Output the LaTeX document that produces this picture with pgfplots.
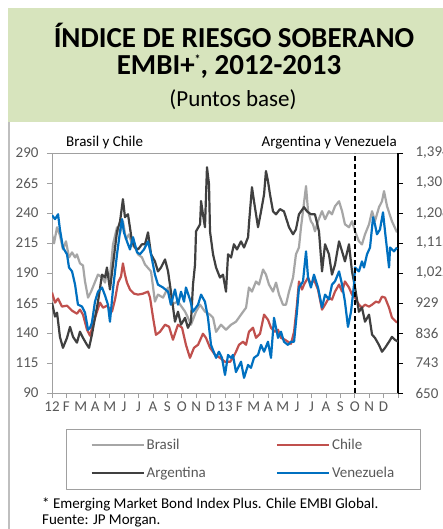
\documentclass[border=0pt]{standalone}
\usepackage{fontspec}
\setmainfont{Carlito}
\usepackage{pgfplots}
\pgfplotsset{compat=1.18}
\definecolor{titlegreen}{HTML}{D7E4BD}
\definecolor{cBrasil}{HTML}{A6A6A6}
\definecolor{cChile}{HTML}{C0504D}
\definecolor{cArg}{HTML}{404040}
\definecolor{cVen}{HTML}{0070C0}
\definecolor{tickgray}{HTML}{595959}
\definecolor{framegray}{HTML}{BFBFBF}
\definecolor{axgray}{HTML}{A0A0A0}
\begin{document}
\begin{tikzpicture}
\useasboundingbox (0pt,0pt) rectangle (442pt,-529pt);
\fill[white] (0pt,0pt) rectangle (442pt,-529pt);
\fill[titlegreen] (8pt,-8pt) rectangle (450pt,-122pt);
\draw[framegray, line width=1.5pt] (8.75pt,-122pt) -- (8.75pt,-535pt);
\node[anchor=base, font=\fontsize{29}{32}\selectfont\bfseries] at (234pt,-48pt) {ÍNDICE DE RIESGO SOBERANO};
\node[anchor=base, font=\fontsize{29}{32}\selectfont\bfseries] at (229pt,-75pt) {EMBI+\raisebox{0.38em}{\fontsize{12}{12}\selectfont *}, 2012-2013};
\node[anchor=base, font=\fontsize{23}{26}\selectfont] at (233pt,-107pt) {(Puntos base)};
\node[anchor=base west, font=\fontsize{15}{18}\selectfont, inner sep=0pt] at (66pt,-147pt) {Brasil y Chile};
\node[anchor=base east, font=\fontsize{15}{18}\selectfont, inner sep=0pt] at (397pt,-147pt) {Argentina y Venezuela};
\node[anchor=base west, font=\fontsize{15}{18}\selectfont, inner sep=0pt] at (42pt,-508pt) {* Emerging Market Bond Index Plus. Chile EMBI Global.};
\node[anchor=base west, font=\fontsize{15}{18}\selectfont, inner sep=0pt] at (42pt,-524pt) {Fuente: JP Morgan.};

\begin{axis}[
  at={(52pt,-393pt)}, anchor=south west,
  scale only axis, width=346pt, height=240pt,
  xmin=0, xmax=24, ymin=90, ymax=290,
  xtick={0,...,24},
  xticklabels={12,F,M,A,M,J,J,A,S,O,N,D,13,F,M,A,M,J,J,A,S,O,N,D,{}},
  ytick={90,115,140,165,190,215,240,265,290},
  yticklabels={90,115,140,165,190,215,240,265,290},
  xtick pos=left, ytick pos=left,
  tick align=outside, major tick length=5pt,
  tick style={draw=axgray, line width=0.8pt},
  axis line style={draw=axgray, line width=0.8pt},
  ticklabel style={font=\fontsize{15}{18}\selectfont, text=tickgray},
  yticklabel style={xshift=-5pt},
  line join=round,
]
\addplot[cBrasil, line width=2.2pt] coordinates {
(0,222.2) (0.14,214.7) (0.35,228.1) (0.55,221.4) (0.76,209.7) (0.97,216.4) (1.18,203.0) (1.39,207.2)
(1.60,203.0) (1.73,205.5) (1.94,198.0) (2.15,196.3) (2.29,182.9) (2.50,169.5) (2.71,174.5) (2.91,180.4)
(3.19,188.7) (3.47,186.2) (3.68,182.0) (3.81,191.3) (4.02,186.2) (4.23,213.8) (4.51,228.1) (4.72,223.1)
(4.92,233.1) (5.13,218.0) (5.34,222.2) (5.55,213.8) (5.83,209.7) (5.97,205.5) (6.24,203.0) (6.45,197.1)
(6.87,191.3) (7.14,166.2) (7.35,172.0) (7.70,169.5) (8.05,177.9) (8.25,163.6) (8.74,166.2) (9.23,157.8)
(9.43,152.8) (9.64,146.9) (9.99,157.8) (10.27,163.6) (10.61,157.8) (10.96,155.3) (11.17,152.8) (11.38,141.0)
(11.72,146.9) (12.07,142.7) (12.42,146.9) (12.76,149.4) (13.11,155.3) (13.46,161.1) (13.66,177.9) (13.87,174.5)
(14.15,182.9) (14.36,180.4) (14.64,192.9) (14.84,188.7) (15.05,180.4) (15.33,174.5) (15.54,182.0) (15.75,172.0)
(16.02,163.6) (16.23,163.6) (16.44,174.5) (16.72,186.2) (16.92,205.5) (17.13,211.3) (17.27,228.1) (17.41,241.5)
(17.62,262.4) (17.76,241.5) (17.96,233.1) (18.10,230.6) (18.24,224.7) (18.45,233.1) (18.73,241.5) (18.94,234.8)
(19.21,241.5) (19.42,238.9) (19.63,245.6) (19.91,249.8) (20.12,241.5) (20.32,230.6) (20.60,228.1) (20.81,233.1)
(21.02,224.7) (21.29,216.4) (21.50,213.8) (21.71,222.2) (21.99,230.6) (22.20,241.5) (22.40,233.1) (22.68,244.8)
(22.89,249.8) (23.03,258.2) (23.24,245.6) (23.58,233.1) (23.93,223.9)
};
\addplot[cChile, line width=2.2pt] coordinates {
(0,173.7) (0.21,165.3) (0.42,168.7) (0.69,162.0) (1.04,162.8) (1.39,158.6) (1.73,156.1) (1.94,159.5)
(2.15,155.3) (2.43,142.7) (2.64,137.7) (2.84,146.9) (3.12,157.8) (3.33,165.3) (3.54,161.1) (3.81,162.8)
(4.16,157.8) (4.37,167.8) (4.58,182.0) (4.79,187.1) (4.92,198.0) (5.06,188.7) (5.20,182.0) (5.41,176.2)
(5.69,172.8) (5.97,172.0) (6.31,172.8) (6.66,174.5) (6.80,169.5) (7.01,152.8) (7.21,138.5) (7.49,141.0)
(7.84,146.9) (8.12,145.2) (8.39,134.4) (8.74,146.9) (9.02,144.4) (9.29,130.2) (9.57,119.3) (9.85,127.7)
(10.13,130.2) (10.47,139.4) (10.68,136.0) (10.96,127.7) (11.31,121.8) (11.65,119.3) (12.00,116.0) (12.35,116.0)
(12.55,119.3) (12.76,124.3) (12.97,130.2) (13.25,132.7) (13.46,130.2) (13.66,141.0) (13.94,144.4) (14.15,136.0)
(14.43,139.4) (14.71,155.3) (14.98,151.1) (15.19,144.4) (15.47,141.0) (15.68,142.7) (15.88,136.0) (16.16,134.4)
(16.37,132.7) (16.58,131.0) (16.79,141.0) (16.99,163.6) (17.13,182.9) (17.34,176.2) (17.48,180.4) (17.76,186.2)
(17.96,180.4) (18.17,184.6) (18.45,176.2) (18.73,159.5) (18.94,163.6) (19.21,169.5) (19.42,167.8) (19.63,174.5)
(19.91,180.4) (20.12,174.5) (20.32,182.9) (20.60,177.9) (20.81,172.0) (21.02,169.5) (21.29,163.6) (21.50,161.1)
(21.71,163.6) (21.99,162.0) (22.20,163.6) (22.47,166.2) (22.68,165.3) (22.89,170.3) (23.10,169.5) (23.38,161.1)
(23.58,152.8) (23.93,148.6)
};
\end{axis}

\begin{axis}[
  at={(52pt,-393pt)}, anchor=south west,
  scale only axis, width=346pt, height=240pt,
  xmin=0, xmax=24, ymin=650, ymax=1394,
  axis x line=none, axis y line*=right,
  ytick={650,743,836,929,1022,1115,1208,1301,1394},
  yticklabels={650,743,836,929,{1,022},{1,115},{1,208},{1,301},{1,394}},
  tick align=outside, major tick length=5pt,
  tick style={draw=black, line width=0.8pt},
  y axis line style={draw=black, line width=2pt},
  ticklabel style={font=\fontsize{15}{18}\selectfont, text=tickgray},
  yticklabel style={xshift=9pt},
  line join=round,
  legend columns=2,
  legend cell align=left,
  legend image code/.code={\draw[#1, line width=2.2pt] (0pt,0pt) -- (52pt,0pt);},
  legend style={at={(axis description cs:0.0405,-0.15)}, anchor=north west,
    draw=axgray, line width=0.8pt, font=\fontsize{15}{18}\selectfont, text=tickgray,
    inner xsep=24pt, inner ysep=8pt, row sep=12pt,
    /tikz/every even column/.append style={column sep=68pt}},
]
\addlegendimage{cBrasil}
\addlegendentry{Brasil}
\addlegendimage{cChile}
\addlegendentry{Chile}
\addplot[cArg, line width=2.2pt] coordinates {
(0,930) (0.21,887) (0.35,899) (0.55,824) (0.76,790) (1.04,821) (1.25,855) (1.46,824)
(1.73,806) (1.94,840) (2.15,821) (2.43,799) (2.57,790) (2.77,831) (2.98,883) (3.19,933)
(3.47,1017) (3.68,1008) (3.81,1039) (4.02,971) (4.23,1048) (4.51,1151) (4.72,1182) (4.92,1251)
(5.06,1195) (5.27,1204) (5.55,1120) (5.76,1101) (5.97,1095) (6.24,1111) (6.45,1111) (6.66,1148)
(6.87,1080) (7.14,1058) (7.35,1027) (7.56,1039) (7.84,1064) (8.05,1027) (8.25,964) (8.53,871)
(8.74,902) (8.95,862) (9.23,883) (9.43,852) (9.64,871) (9.78,986) (9.92,1048) (9.99,1151)
(10.27,1173) (10.34,1245) (10.47,1204) (10.61,1164) (10.75,1350) (10.89,1297) (10.96,1151) (11.17,1080)
(11.38,1039) (11.65,1008) (11.86,1017) (12.07,964) (12.21,1080) (12.42,1070) (12.62,1111) (12.83,1095)
(13.11,1120) (13.32,1101) (13.60,1133) (13.66,1173) (13.87,1288) (14.01,1245) (14.29,1164) (14.50,1213)
(14.71,1266) (14.84,1338) (14.98,1307) (15.12,1266) (15.33,1213) (15.54,1204) (15.81,1220) (16.09,1213)
(16.44,1164) (16.72,1142) (16.92,1157) (17.13,1204) (17.48,1226) (17.69,1213) (17.96,1204) (18.24,1204)
(18.52,1151) (18.73,1027) (18.94,1111) (19.21,1080) (19.42,1017) (19.63,1048) (19.91,1120) (20.12,1089)
(20.32,1058) (20.60,1111) (20.81,1027) (21.02,977) (21.29,902) (21.50,915) (21.71,871) (21.99,893)
(22.20,831) (22.40,821) (22.68,799) (22.89,778) (23.10,790) (23.38,809) (23.58,824) (23.79,815) (24.00,809)
};
\addlegendentry{Argentina}
\addplot[cVen, line width=2.2pt] coordinates {
(0,1201) (0.21,1189) (0.42,1204) (0.55,1157) (0.76,1101) (1.04,1080) (1.18,1039) (1.39,1027)
(1.60,986) (1.80,924) (2.08,918) (2.29,899) (2.50,846) (2.64,852) (2.77,868) (2.98,933)
(3.19,964) (3.47,977) (3.68,952) (3.88,924) (4.02,871) (4.23,971) (4.51,1080) (4.72,1151)
(4.86,1189) (4.99,1148) (5.20,1120) (5.41,1095) (5.62,1133) (5.90,1086) (6.10,1080) (6.38,1095)
(6.66,1120) (6.87,1080) (7.14,1017) (7.35,986) (7.70,977) (8.05,964) (8.25,924) (8.53,971)
(8.74,924) (8.95,964) (9.16,933) (9.29,977) (9.57,940) (9.78,902) (10.13,924) (10.34,955)
(10.61,933) (10.82,883) (11.03,799) (11.38,759) (11.58,778) (11.79,759) (12.00,706) (12.21,768)
(12.42,759) (12.55,768) (12.76,715) (13.11,747) (13.32,697) (13.60,737) (13.80,728) (14.01,759)
(14.29,768) (14.50,799) (14.71,778) (14.98,809) (15.19,759) (15.40,883) (15.68,821) (15.88,840)
(16.09,809) (16.37,799) (16.58,809) (16.79,809) (16.99,902) (17.13,977) (17.41,996) (17.62,1089)
(17.76,1008) (17.96,977) (18.17,1017) (18.45,977) (18.73,915) (18.94,955) (19.21,940) (19.42,986)
(19.63,996) (19.91,1027) (20.12,986) (20.32,933) (20.53,855) (20.74,902) (20.95,986) (21.02,1039)
(21.29,1027) (21.50,1058) (21.64,1039) (21.85,1080) (22.06,1101) (22.27,1195) (22.40,1173) (22.54,1142)
(22.75,1157) (22.96,1210) (23.10,1151) (23.38,1039) (23.45,1101) (23.72,1089) (23.93,1101)
};
\addlegendentry{Venezuela}
\addplot[black, line width=2pt, dash pattern=on 5pt off 3pt, forget plot] coordinates {(21,650) (21,1394)};
\end{axis}
\end{tikzpicture}
\end{document}
